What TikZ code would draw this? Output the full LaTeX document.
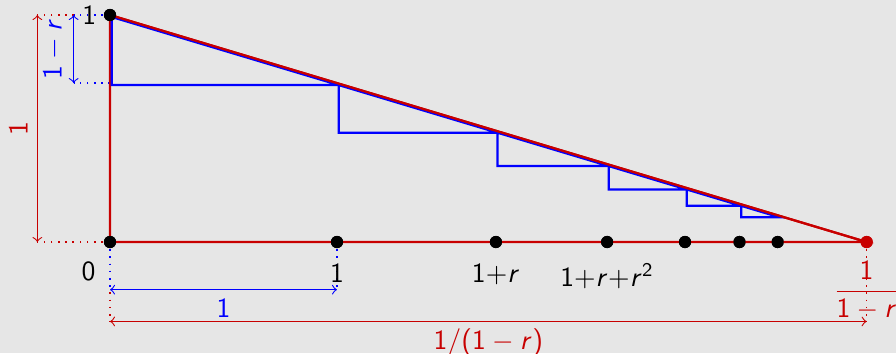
\documentclass[tikz,border=0pt]{standalone}
\usepackage{amsmath}
\usepackage{xcolor}
\usepackage{tikz}
\usetikzlibrary{arrows,positioning}
\DeclareSymbolFont{operators}{OT1}{cmss}{m}{n}
\DeclareSymbolFont{letters}{OT1}{cmss}{m}{sl}
\mathcode`\/="002F
\definecolor{bgray}{RGB}{230,230,230}
\definecolor{dred}{RGB}{200,0,0}
\renewcommand{\familydefault}{\sfdefault}

\begin{document}
\begin{tikzpicture}[
    x=2.88cm, y=2.88cm,
    dot/.style={circle, fill=black, inner sep=0pt, minimum size=4.4pt},
    frame/.style={dred, thick},
    stair/.style={blue, thick, transform canvas={xshift=0.6pt, yshift=-0.7pt}},
    rguide/.style={dred, dotted, semithick},
    bguide/.style={blue, dotted, semithick},
    rdim/.style={dred, <->, >=to},
    bdim/.style={blue, <->, >=to}
]
    \fill[bgray] (-0.4846,-0.489) rectangle (3.4626,1.0661);
    \useasboundingbox (-0.4846,-0.489) rectangle (3.4626,1.0661);

    % corners of the stairs on the slope
    \coordinate (a0) at (0,1);
    \coordinate (a1) at (1,0.7);
    \coordinate (a2) at (1.7,0.49);
    \coordinate (a3) at (2.19,0.343);
    \coordinate (a4) at (2.533,0.2401);
    \coordinate (a5) at (2.7731,0.16807);
    \coordinate (a6) at (2.94117,0.117649);
    \coordinate (b0) at (0,0.7);
    \coordinate (b1) at (1,0.49);
    \coordinate (b2) at (1.7,0.343);
    \coordinate (b3) at (2.19,0.2401);
    \coordinate (b4) at (2.533,0.16807);
    \coordinate (b5) at (2.7731,0.117649);

    % ends of the dimension arrows
    \coordinate (lt) at (-0.32,1);
    \coordinate (lb) at (-0.32,0);
    \coordinate (mt) at (-0.16,1);
    \coordinate (mb) at (-0.16,0.7);
    \coordinate (u0) at (0,-0.21);
    \coordinate (u1) at (1,-0.21);
    \coordinate (v0) at (0,-0.35);
    \coordinate (v1) at (3.3333,-0.35);

    % guides
    \draw[rguide] (a0) -- (lt);
    \draw[rguide] (0,0) -- (lb);
    \draw[rguide] (0,0) -- (v0);
    \draw[rguide] (3.3333,0) -- (v1);
    \draw[bguide] (a0) -- (mt);
    \draw[bguide] (b0) -- (mb);
    \draw[bguide] (0,0) -- (u0);
    \draw[bguide] (1,0) -- (u1);

    % big triangle
    \node[dot] (p0) at (0,0) {};
    \node[dot] (p1) at (1,0) {};
    \node[dot] (p2) at (1.7,0) {};
    \node[dot] (p3) at (2.19,0) {};
    \node[dot] (p4) at (2.533,0) {};
    \node[dot] (p5) at (2.7731,0) {};
    \node[dot] (p6) at (2.94117,0) {};
    \node[dot, fill=dred] (q) at (3.3333,0) {};
    \node[dot] (top) at (a0) {};
    \draw[frame] (p0.center) -- (top.center) -- (q.center) -- cycle;

    % stairs
    \draw[stair] (a0) -- (b0) -- (a1) -- cycle;
    \draw[stair] (a1) -- (b1) -- (a2) -- cycle;
    \draw[stair] (a2) -- (b2) -- (a3) -- cycle;
    \draw[stair] (a3) -- (b3) -- (a4) -- cycle;
    \draw[stair] (a4) -- (b4) -- (a5) -- cycle;
    \draw[stair] (a5) -- (b5) -- (a6) -- cycle;
    \draw[frame] (top.center) -- (q.center);

    \node[dot] at (p0) {};
    \node[dot] at (p1) {};
    \node[dot] at (p2) {};
    \node[dot] at (p3) {};
    \node[dot] at (p4) {};
    \node[dot] at (p5) {};
    \node[dot] at (p6) {};
    \node[dot, fill=dred] at (q) {};
    \node[dot] at (top) {};

    % dimensions
    \draw[rdim] (lt) -- node[anchor=south, rotate=90, dred] (h1) {$1$} (lb);
    \draw[bdim] (mt) -- node[anchor=south, rotate=90, blue] (h2) {$1-r$} (mb);
    \draw[bdim] (u0) -- node[below, blue] (w1) {$1$} (u1);
    \draw[rdim] (v0) -- node[below=-1pt, dred] (w2) {$1/(1-r)$} (v1);

    % labels
    \node[left=-1pt of top] (t1) {$1$};
    \node[below left=2pt and 0pt of p0] (l0) {$0$};
    \node[below=2pt of p1] (l1) {$1$};
    \node[below=2pt of p2] (l2) {$1{+}r$};
    \node[below=2pt of p3] (l3) {$1{+}r{+}r^2$};
    \node[below=1pt of q, dred] (lq) {$\dfrac{1}{1-r}$};
\end{tikzpicture}
\end{document}
